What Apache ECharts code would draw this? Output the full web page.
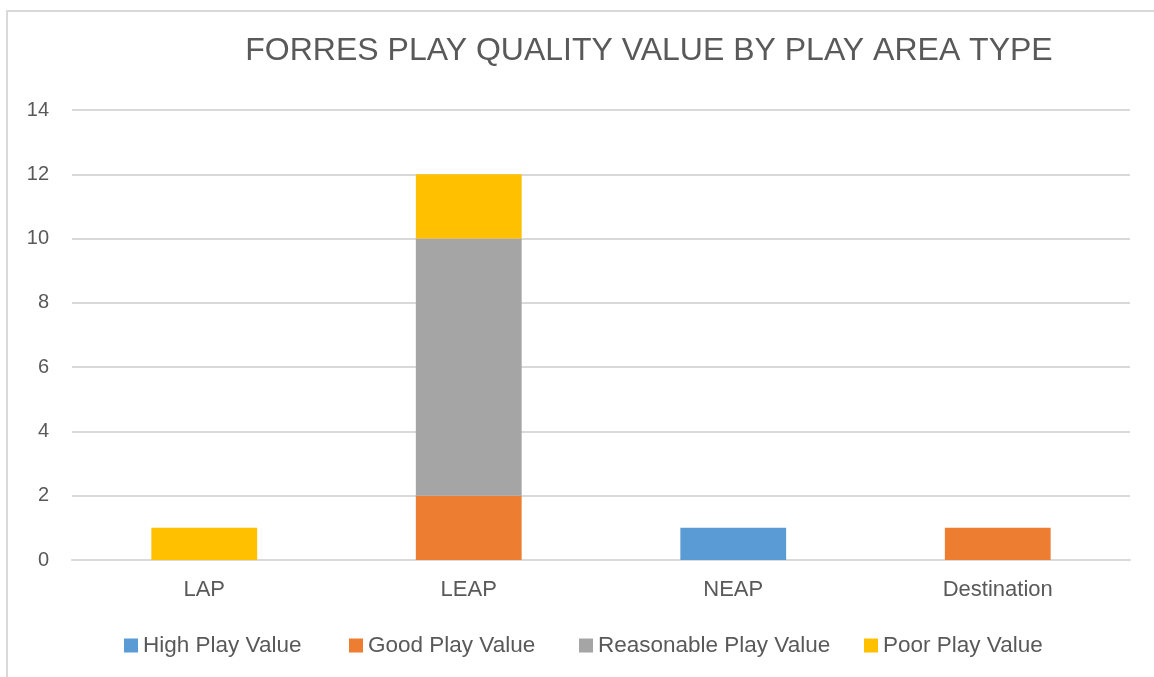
<!DOCTYPE html>
<html>
<head>
<meta charset="utf-8">
<script src="https://cdn.jsdelivr.net/npm/echarts@6/dist/echarts.min.js"></script>
<style>
  html, body { margin: 0; padding: 0; background: #fff; }
  #chart { width: 1154px; height: 677px; }
</style>
</head>
<body>
<div id="chart"></div>
<script>
var categories = ['LAP', 'LEAP', 'NEAP', 'Destination'];
var seriesNames = ['High Play Value', 'Good Play Value', 'Reasonable Play Value', 'Poor Play Value'];
var highValues = [0, 0, 1, 0];
var goodValues = [0, 2, 0, 1];
var reasonableValues = [0, 8, 0, 0];
var poorValues = [1, 2, 0, 0];
var colors = ['#5B9BD5', '#ED7D31', '#A5A5A5', '#FFC000'];

var allValues = [highValues, goodValues, reasonableValues, poorValues];
var legendLefts = [119, 344, 574, 859];
var font = 'Liberation Sans, Arial, sans-serif';

var chart = echarts.init(document.getElementById('chart'));

chart.setOption({
    animation: false,
    color: colors,
    title: {
        text: 'FORRES PLAY QUALITY VALUE BY PLAY AREA TYPE',
        left: 644,
        textAlign: 'center',
        top: 30,
        textStyle: { fontFamily: font, fontSize: 32, fontWeight: 'normal', color: '#595959' }
    },
    graphic: [{
        type: 'rect',
        shape: { x: 7, y: 11, width: 1300, height: 800 },
        style: { fill: 'none', stroke: '#D9D9D9', lineWidth: 2 },
        silent: true
    }],
    legend: seriesNames.map(function (n, i) {
        return {
            data: [n],
            left: legendLefts[i],
            top: 629,
            itemWidth: 14,
            itemHeight: 14,
            itemGap: 0,
            icon: 'rect',
            textStyle: { fontFamily: font, fontSize: 22.5, color: '#595959' }
        };
    }),
    grid: { left: 72, right: 24, top: 110, bottom: 117 },
    xAxis: {
        type: 'category',
        data: categories,
        axisLine: { lineStyle: { color: '#D9D9D9', width: 2 } },
        axisTick: { show: false },
        axisLabel: { fontFamily: font, fontSize: 22, color: '#595959', margin: 19 }
    },
    yAxis: {
        type: 'value',
        min: 0,
        max: 14,
        interval: 2,
        axisLine: { show: false },
        axisTick: { show: false },
        splitLine: { lineStyle: { color: '#D9D9D9', width: 2 } },
        axisLabel: { fontFamily: font, fontSize: 20, color: '#595959', margin: 23 }
    },
    series: seriesNames.map(function (n, i) {
        return {
            name: n,
            type: 'bar',
            stack: 'total',
            barWidth: '40%',
            data: allValues[i].map(function (v) { return v === 0 ? null : v; })
        };
    })
});
</script>
</body>
</html>
